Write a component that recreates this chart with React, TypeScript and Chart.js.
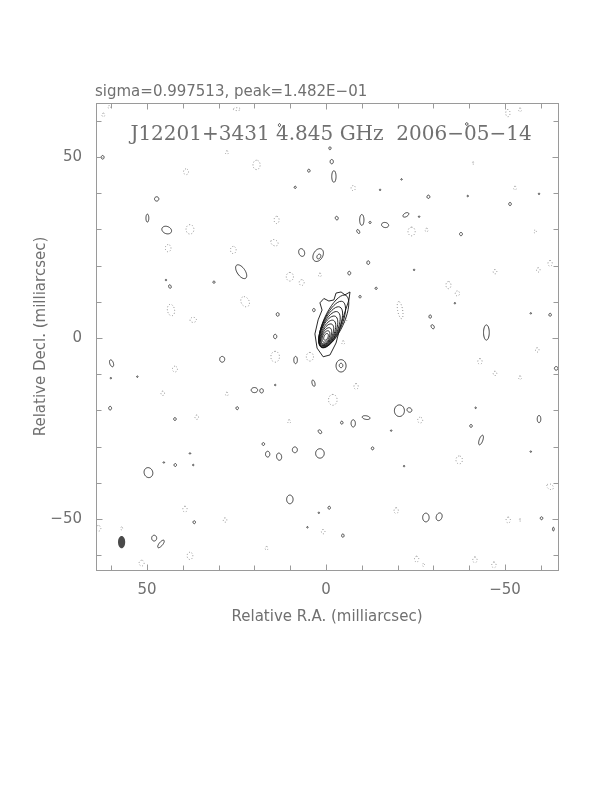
import React, { useEffect, useRef } from "react";
import { Chart, registerables } from "chart.js";

Chart.register(...registerables);

// ---------- text ----------
const HEADER_TEXT = "sigma=0.997513, peak=1.482E\u221201";
const MAP_TITLE = "J12201+3431 4.845 GHz  2006\u221205\u221214";
const X_LABEL = "Relative R.A. (milliarcsec)";
const Y_LABEL = "Relative Decl. (milliarcsec)";

// ---------- axes (milliarcsec) ----------
const X_RANGE = [-64.8, 64.25]; // R.A. increases to the left
const Y_RANGE = [-64.1, 64.9];
const TICK_VALUES = [-60, -50, -40, -30, -20, -10, 0, 10, 20, 30, 40, 50, 60];
const LABELED_TICKS = [-50, 0, 50];

// ---------- contours: [RA, Dec, semi-major, semi-minor, PA(deg)] in mas ----------
// core (nested levels, innermost first)
const CORE_CONTOURS = [
  [0.0, 0.3, 1.0, 0.55, -25],
  [0.0, 0.4, 1.7, 0.9, -25],
  [-0.1, 0.6, 2.4, 1.2, -25],
  [-0.3, 1.0, 3.1, 1.45, -25],
  [-0.5, 1.4, 3.8, 1.7, -25],
  [-0.7, 1.9, 4.5, 1.95, -25],
  [-1.0, 2.4, 5.3, 2.15, -25],
  [-1.3, 3.0, 6.1, 2.35, -25],
  [-1.7, 3.7, 7.0, 2.55, -25],
  [-2.2, 4.6, 7.9, 2.75, -25],
];

// outermost jet contour (irregular)
const JET_OUTLINE_RA = [0.8, 2.5, 3.1, 2.2, 1.1, 1.7, 0.6, -0.8, -2.2, -2.8, -4.2, -5.3, -6.7, -6.4, -5.3, -3.9, -2.8, -1.1];
const JET_OUTLINE_DEC = [-5.2, -2.8, 1.1, 5.0, 7.7, 9.7, 10.9, 10.2, 10.5, 12.4, 12.7, 11.9, 12.7, 10.5, 7.2, 2.8, -1.4, -4.7];

// positive (solid) contours
const POSITIVE_CONTOURS = [
  [62.4, 49.9, 0.5, 0.4, 0], [47.3, 38.4, 0.6, 0.6, 0], [49.9, 33.1, 1.1, 0.4, 0],
  [44.5, 29.8, 1.4, 1.0, 70], [23.7, 18.3, 2.2, 1.1, 35], [31.3, 15.4, 0.3, 0.3, 0],
  [43.6, 14.2, 0.5, 0.35, 20], [13.5, 6.5, 0.5, 0.4, 0], [14.2, 0.4, 0.6, 0.45, 0],
  [6.8, 23.6, 1.1, 0.8, 20], [2.2, 22.9, 1.9, 1.3, -30], [2.0, 22.5, 0.7, 0.5, -30],
  [4.8, 46.2, 0.4, 0.35, 0], [8.6, 41.6, 0.3, 0.3, 0], [3.4, 7.7, 0.45, 0.35, 0],
  [44.7, 16.0, 0.2, 0.2, 0], [-1.6, 48.7, 0.6, 0.45, 0], [-2.2, 44.6, 1.6, 0.6, 0],
  [-21.1, 43.8, 0.2, 0.2, 0], [-15.1, 40.9, 0.2, 0.2, 0], [-28.6, 39.0, 0.45, 0.4, 0],
  [-39.6, 39.2, 0.2, 0.2, 0], [-51.4, 37.0, 0.45, 0.35, 0], [-59.5, 39.8, 0.2, 0.2, 0],
  [-3.0, 33.1, 0.5, 0.4, 20], [-10.0, 32.6, 1.5, 0.6, 0], [-12.3, 31.9, 0.3, 0.3, 0],
  [-16.5, 31.2, 1.0, 0.7, 80], [-22.3, 34.0, 0.9, 0.5, -60], [-26.0, 33.5, 0.2, 0.2, 0],
  [-9.0, 29.4, 0.6, 0.35, 30], [-37.7, 28.7, 0.45, 0.4, 0], [-11.8, 20.8, 0.5, 0.4, 0],
  [-6.5, 17.9, 0.5, 0.4, 0], [-14.0, 13.7, 0.3, 0.3, 0], [-9.5, 11.4, 0.35, 0.3, 0],
  [-24.6, 18.8, 0.2, 0.2, 0], [-29.1, 5.9, 0.45, 0.35, 0], [-29.8, 3.1, 0.6, 0.4, 30],
  [-44.8, 1.5, 2.1, 0.8, 0], [-62.6, 6.4, 0.4, 0.35, 0], [-57.2, 6.8, 0.2, 0.2, 0],
  [-36.0, 9.6, 0.2, 0.2, 0], [59.9, -7.0, 1.0, 0.5, 20], [29.0, -5.9, 0.8, 0.7, 0],
  [8.5, -6.1, 1.0, 0.5, 0], [3.5, -12.5, 0.9, 0.4, 15], [20.0, -14.4, 0.9, 0.7, 90],
  [18.0, -14.6, 0.6, 0.5, 0], [14.2, -13.0, 0.2, 0.2, 0], [60.3, -19.4, 0.5, 0.4, 0],
  [24.8, -19.4, 0.4, 0.35, 0], [42.2, -22.4, 0.4, 0.35, 0], [1.7, -25.9, 0.6, 0.4, 40],
  [17.5, -29.3, 0.4, 0.35, 0], [16.3, -32.1, 0.8, 0.6, 0], [13.1, -32.8, 1.0, 0.7, 10],
  [8.7, -30.9, 0.8, 0.7, 0], [1.7, -31.9, 1.3, 1.2, 0], [42.1, -35.1, 0.4, 0.35, 0],
  [45.3, -34.4, 0.2, 0.2, 0], [38.0, -31.9, 0.2, 0.2, 0], [37.1, -35.1, 0.2, 0.2, 0],
  [49.6, -37.2, 1.4, 1.2, 20], [10.1, -44.6, 1.2, 0.9, 0], [36.8, -50.9, 0.4, 0.35, 0],
  [2.0, -48.3, 0.2, 0.2, 0], [5.2, -52.3, 0.2, 0.2, 0], [48.0, -55.3, 0.8, 0.7, 0],
  [46.1, -56.9, 1.3, 0.5, -40], [52.7, -10.7, 0.2, 0.2, 0], [60.1, -11.1, 0.2, 0.2, 0],
  [-4.2, -7.7, 1.7, 1.4, 0], [-4.2, -7.6, 0.6, 0.5, 0], [-20.5, -20.1, 1.6, 1.4, 0],
  [-23.3, -19.9, 0.7, 0.6, 60], [-4.4, -23.4, 0.4, 0.35, 0], [-7.6, -23.6, 1.0, 0.6, 0],
  [-11.2, -22.0, 1.1, 0.5, 80], [-13.0, -30.5, 0.4, 0.35, 0], [-40.5, -24.3, 0.4, 0.35, 0],
  [-43.3, -28.2, 1.4, 0.5, -20], [-59.5, -22.4, 1.0, 0.5, 0], [-64.3, -8.4, 0.5, 0.5, 0],
  [-0.9, -46.9, 0.4, 0.35, 0], [-27.9, -49.6, 1.2, 0.9, 0], [-31.6, -49.4, 1.1, 0.8, -20],
  [-60.2, -49.8, 0.4, 0.35, 0], [-63.5, -52.8, 0.5, 0.25, 0], [-4.7, -54.6, 0.45, 0.35, 0],
  [13.0, 58.8, 0.4, 0.3, 0], [-39.3, 59.1, 0.35, 0.35, 0], [-1.1, 52.4, 0.4, 0.3, 0],
  [-18.2, -25.6, 0.2, 0.2, 0], [-41.8, -19.3, 0.2, 0.2, 0], [-57.2, -31.4, 0.2, 0.2, 0],
  [-21.8, -35.4, 0.2, 0.2, 0],
];

// negative (dotted) contours
const NEGATIVE_CONTOURS = [
  [19.4, 47.8, 1.3, 1.0, 0], [39.1, 45.9, 0.8, 0.7, 0], [38.0, 30.0, 1.3, 1.1, 0],
  [44.1, 24.8, 1.0, 0.8, 0], [25.9, 24.3, 1.0, 0.8, 0], [13.8, 32.6, 1.0, 0.7, 0],
  [14.4, 26.3, 1.1, 0.8, 60], [10.1, 16.9, 1.2, 1.0, 0], [6.8, 15.3, 0.8, 0.7, 0],
  [22.6, 10.0, 1.5, 1.1, 30], [43.3, 7.7, 1.6, 1.0, 10], [37.1, 5.0, 0.9, 0.7, 90],
  [1.7, 17.4, 0.5, 0.4, 0], [24.9, 63.2, 1.0, 0.4, 90], [62.2, 61.6, 0.5, 0.4, 0],
  [27.7, 51.2, 0.5, 0.4, 0], [60.5, 63.8, 0.4, 0.4, 0], [-7.6, 41.4, 0.7, 0.6, 0],
  [-23.9, 29.4, 1.2, 1.0, 0], [-28.1, 29.8, 0.5, 0.4, 0], [-34.2, 14.6, 1.0, 0.7, 0],
  [-36.7, 12.3, 0.7, 0.6, 0], [-47.2, 18.3, 0.6, 0.5, 0], [-59.3, 18.8, 0.6, 0.5, 0],
  [-62.6, 20.6, 0.8, 0.6, 0], [-20.7, 7.7, 2.4, 0.7, 10], [-5.3, 5.0, 0.7, 0.5, 0],
  [-52.8, 41.4, 0.5, 0.4, 0], [-50.8, 62.1, 1.0, 0.6, 0], [-54.2, 63.0, 0.5, 0.4, 0],
  [-41.1, 48.3, 0.3, 0.3, 0], [-58.4, 29.4, 0.4, 0.35, 0], [42.2, -8.6, 0.8, 0.7, 0],
  [14.2, -5.2, 1.5, 1.2, 0], [4.5, -5.2, 1.2, 1.0, 0], [45.6, -15.3, 0.6, 0.5, 0],
  [27.7, -15.5, 0.5, 0.4, 0], [36.1, -21.9, 0.6, 0.5, 0], [10.3, -23.1, 0.5, 0.4, 0],
  [39.4, -47.3, 0.8, 0.6, 0], [28.2, -50.3, 0.6, 0.5, 0], [0.8, -53.5, 0.6, 0.5, 0],
  [38.0, -60.2, 1.0, 0.8, 0], [16.6, -58.1, 0.5, 0.4, 0], [51.5, -62.2, 0.8, 0.7, 0],
  [63.6, -52.6, 0.8, 0.7, 0], [57.1, -52.6, 0.4, 0.3, 0], [-4.8, -1.3, 0.5, 0.4, 0],
  [-8.4, -13.4, 0.8, 0.6, 0], [-1.9, -17.1, 1.5, 1.2, 0], [-26.3, -22.7, 0.8, 0.7, 0],
  [-43.0, -6.5, 0.8, 0.6, 0], [-47.2, -9.8, 0.6, 0.5, 0], [-54.2, -11.0, 0.5, 0.4, 0],
  [-59.0, -3.3, 0.6, 0.5, 0], [-37.2, -33.7, 1.1, 0.9, 0], [-62.6, -41.1, 1.0, 0.7, 60],
  [-19.6, -47.7, 0.8, 0.6, 0], [-50.9, -50.3, 0.8, 0.6, 0], [-54.2, -50.3, 0.3, 0.3, 0],
  [-25.3, -61.1, 0.8, 0.6, 0], [-27.2, -62.7, 0.4, 0.3, 0], [-41.6, -61.3, 0.8, 0.6, 0],
  [-46.9, -62.7, 0.8, 0.6, 0],
];

// restoring beam
const BEAM = [57.1, -56.4, 1.7, 1.0, 0];

const GRAY_TEXT = "#707070";
const FRAME = "#9a9a9a";

function fmtTick(v: number): string {
  if (v < 0) return "\u2212" + String(Math.abs(v));
  return String(v);
}

function ellipsePath(chart: any, e: number[]) {
  const xs = chart.scales.x;
  const ys = chart.scales.y;
  const [cx, cy, a, b, pa] = e;
  const p = (pa * Math.PI) / 180;
  const sp = Math.sin(p);
  const cp = Math.cos(p);
  const ctx = chart.ctx;
  ctx.beginPath();
  const n = 40;
  for (let k = 0; k <= n; k++) {
    const t = (2 * Math.PI * k) / n;
    const dra = a * Math.cos(t) * sp + b * Math.sin(t) * cp;
    const ddec = a * Math.cos(t) * cp - b * Math.sin(t) * sp;
    const px = xs.getPixelForValue(cx + dra);
    const py = ys.getPixelForValue(cy + ddec);
    if (k === 0) ctx.moveTo(px, py);
    else ctx.lineTo(px, py);
  }
  ctx.closePath();
}

const mapPlugin = {
  id: "vlbiMap",
  afterDatasetsDraw(chart: any) {
    const { ctx, chartArea } = chart;
    const xs = chart.scales.x;
    const ys = chart.scales.y;
    ctx.save();
    ctx.beginPath();
    ctx.rect(chartArea.left, chartArea.top, chartArea.right - chartArea.left, chartArea.bottom - chartArea.top);
    ctx.clip();

    // negative contours (dotted)
    ctx.strokeStyle = "#8a8a8a";
    ctx.lineWidth = 1;
    ctx.setLineDash([1, 2]);
    NEGATIVE_CONTOURS.forEach((e) => {
      ellipsePath(chart, e);
      ctx.stroke();
    });
    ctx.setLineDash([]);

    // positive contours
    ctx.strokeStyle = "#2a2a2a";
    ctx.lineWidth = 0.9;
    POSITIVE_CONTOURS.forEach((e) => {
      ellipsePath(chart, e);
      ctx.stroke();
    });

    // core
    ctx.strokeStyle = "#111111";
    ctx.lineWidth = 0.9;
    CORE_CONTOURS.forEach((e) => {
      ellipsePath(chart, e);
      ctx.stroke();
    });
    ctx.beginPath();
    JET_OUTLINE_RA.forEach((ra, i) => {
      const px = xs.getPixelForValue(ra);
      const py = ys.getPixelForValue(JET_OUTLINE_DEC[i]);
      if (i === 0) ctx.moveTo(px, py);
      else ctx.lineTo(px, py);
    });
    ctx.closePath();
    ctx.stroke();

    // beam
    ctx.fillStyle = "#4a4a4a";
    ellipsePath(chart, BEAM);
    ctx.fill();
    ctx.restore();

    // frame + inward ticks
    ctx.save();
    ctx.strokeStyle = FRAME;
    ctx.lineWidth = 1;
    const L = Math.round(chartArea.left) + 0.5;
    const R = Math.round(chartArea.right) + 0.5;
    const T = Math.round(chartArea.top) + 0.5;
    const B = Math.round(chartArea.bottom) + 0.5;
    ctx.strokeRect(L, T, R - L, B - T);
    ctx.beginPath();
    TICK_VALUES.forEach((v) => {
      const len = LABELED_TICKS.includes(v) ? 6 : 5;
      const px = Math.round(xs.getPixelForValue(v)) + 0.5;
      ctx.moveTo(px, B);
      ctx.lineTo(px, B - len);
      ctx.moveTo(px, T);
      ctx.lineTo(px, T + len);
      const py = Math.round(ys.getPixelForValue(v)) + 0.5;
      ctx.moveTo(L, py);
      ctx.lineTo(L + len, py);
      ctx.moveTo(R, py);
      ctx.lineTo(R - len, py);
    });
    ctx.stroke();

    // texts
    ctx.fillStyle = GRAY_TEXT;
    ctx.textBaseline = "alphabetic";
    ctx.textAlign = "left";
    ctx.font = "15px 'DejaVu Sans'";
    ctx.fillText(HEADER_TEXT, 95, 96);
    ctx.font = "20px 'DejaVu Serif'";
    ctx.textAlign = "center";
    ctx.fillText(MAP_TITLE, 331, 140);
    ctx.restore();
  },
};

export default function App() {
  const canvasRef = useRef<HTMLCanvasElement | null>(null);

  useEffect(() => {
    const canvas = canvasRef.current;
    if (!canvas) return;
    const tickFont = { family: "'DejaVu Sans'", size: 15 };
    const chart = new Chart(canvas, {
      type: "scatter",
      data: { datasets: [] },
      options: {
        responsive: false,
        animation: false,
        devicePixelRatio: 1,
        layout: { padding: { left: 0, right: 54, top: 103, bottom: 162 } },
        plugins: {
          legend: { display: false },
          tooltip: { enabled: false },
          title: { display: false },
        },
        scales: {
          x: {
            type: "linear",
            reverse: true,
            min: X_RANGE[0],
            max: X_RANGE[1],
            afterFit: (s: any) => {
              s.height = 60;
            },
            grid: { display: false, drawTicks: false },
            border: { display: false },
            ticks: {
              stepSize: 10,
              includeBounds: false,
              autoSkip: false,
              maxRotation: 0,
              padding: 11,
              color: GRAY_TEXT,
              font: tickFont,
              callback: (v: any) => (LABELED_TICKS.includes(Number(v)) ? fmtTick(Number(v)) : ""),
            },
            title: {
              display: true,
              text: X_LABEL,
              color: GRAY_TEXT,
              font: tickFont,
              padding: { top: 0, bottom: 4 },
            },
          },
          y: {
            type: "linear",
            min: Y_RANGE[0],
            max: Y_RANGE[1],
            afterFit: (s: any) => {
              s.width = 96;
            },
            grid: { display: false, drawTicks: false },
            border: { display: false },
            ticks: {
              stepSize: 10,
              includeBounds: false,
              autoSkip: false,
              padding: 14,
              color: GRAY_TEXT,
              font: tickFont,
              callback: (v: any) => (LABELED_TICKS.includes(Number(v)) ? fmtTick(Number(v)) : ""),
            },
            title: {
              display: true,
              text: Y_LABEL,
              color: GRAY_TEXT,
              font: tickFont,
              padding: { top: 32, bottom: 0 },
            },
          },
        },
      },
      plugins: [mapPlugin],
    } as any);
    return () => chart.destroy();
  }, []);

  return (
    <div style={{ position: "absolute", left: 0, top: 0, width: 612, height: 792, background: "#fff" }}>
      <canvas ref={canvasRef} width={612} height={792} style={{ display: "block", width: 612, height: 792 }} />
    </div>
  );
}
